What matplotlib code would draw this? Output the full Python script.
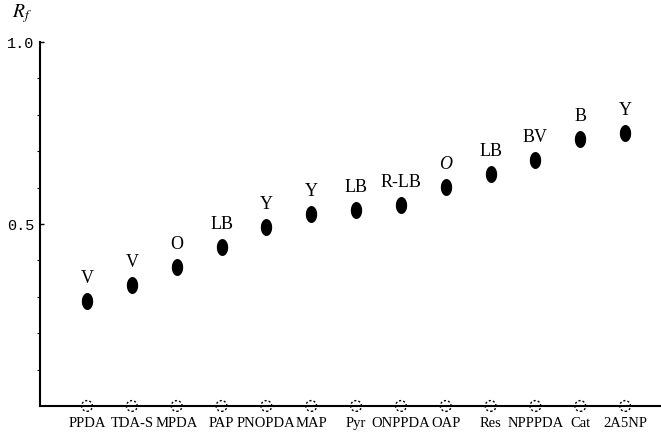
import matplotlib
matplotlib.use("Agg")
import matplotlib.pyplot as plt
import numpy as np
from matplotlib.path import Path

compounds = ["PPDA", "TDA-S", "MPDA", "PAP", "PNOPDA", "MAP", "Pyr",
             "ONPPDA", "OAP", "Res", "NPPPDA", "Cat", "2A5NP"]
rf_values = [0.288, 0.332, 0.382, 0.437, 0.492, 0.527, 0.538,
             0.552, 0.602, 0.637, 0.676, 0.734, 0.750]
origin_values = [0.0] * 13
colour_codes = ["V", "V", "O", "LB", "Y", "Y", "LB",
                "R-LB", "O", "LB", "BV", "B", "Y"]
italic_codes = [False] * 8 + [True] + [False] * 4

plt.rcParams["mathtext.fontset"] = "stix"

W, H = 661, 436
fig = plt.figure(figsize=(W / 100, H / 100), dpi=100)
ax = fig.add_axes([40 / W, 1 - 406 / H, 621 / W, 364 / H])

x = np.arange(len(compounds))

# elliptical spot marker (taller than wide)
t = np.linspace(0, 2 * np.pi, 60)
verts = np.column_stack([0.64 * np.cos(t), np.sin(t)])
ell = Path(verts, closed=True)

ax.scatter(x, rf_values, marker=ell, s=125, color="black", zorder=3)

# starting points as dotted circles on the baseline
ax.scatter(x, origin_values, s=60, facecolors="none", edgecolors="black",
           linewidths=1.0, linestyle=(0, (1.5, 1.5)), zorder=4, clip_on=False)

for xi, yi, code, it in zip(x, rf_values, colour_codes, italic_codes):
    ax.annotate(code, (xi, yi), xytext=(0, 10), textcoords="offset points",
                ha="center", va="bottom", fontsize=13,
                family="Liberation Serif", style="italic" if it else "normal")

ax.set_xlim(-1.048, 12.80)
ax.set_ylim(0, 1.0)

ax.spines["top"].set_visible(False)
ax.spines["right"].set_visible(False)
ax.spines["left"].set_linewidth(1.5)
ax.spines["bottom"].set_linewidth(1.5)

ax.set_xticks(x)
ax.set_xticklabels(compounds, family="Liberation Serif", fontsize=10.5)
ax.tick_params(axis="x", length=0, pad=8)

ax.set_yticks([0.5, 1.0])
ax.set_yticklabels(["0.5", "1.0"], family="Liberation Mono", fontsize=11)
ax.set_yticks(np.arange(0.1, 1.0, 0.1), minor=True)
ax.tick_params(axis="y", which="major", direction="in", length=3, width=1, pad=4)
ax.tick_params(axis="y", which="minor", direction="out", length=2, width=0.8)

fig.text(22 / W, 1 - 14 / H, r"$R_f$", fontsize=14, ha="center", va="center")

fig.savefig("out.png", dpi=100, facecolor="white")
